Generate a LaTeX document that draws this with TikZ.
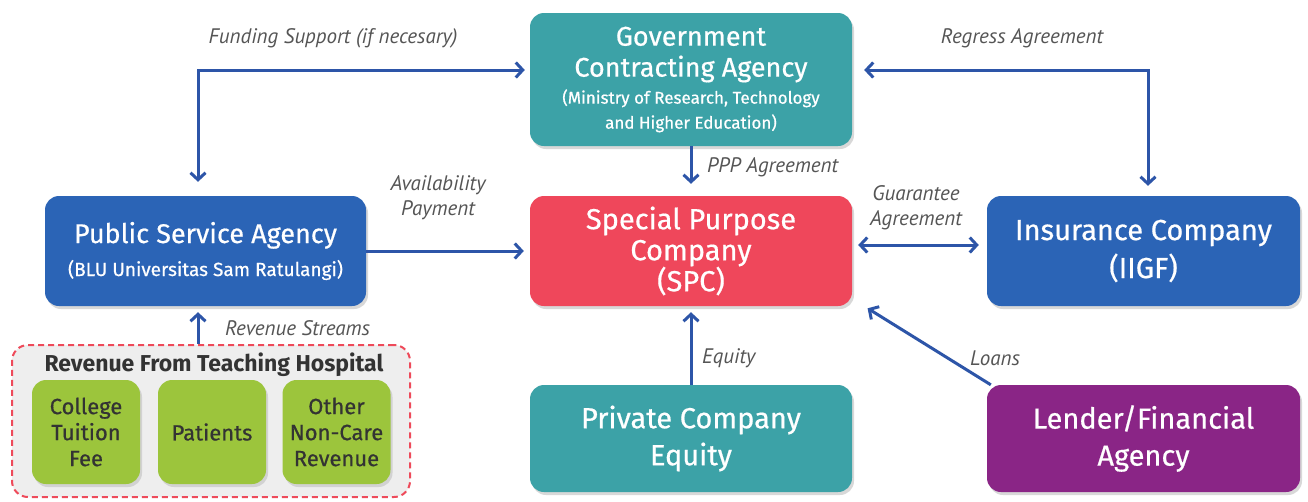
\documentclass[tikz,border=0pt]{standalone}
\usepackage{fontspec}
\setmainfont{Fira Sans}
\newfontfamily\labfont{PT Sans}
\newfontfamily\boxfont{Fira Sans}[FakeBold=0.6]
\usetikzlibrary{arrows.meta,shadows,calc}
\definecolor{teal1}{HTML}{3CA2A7}
\definecolor{red1}{HTML}{EF475B}
\definecolor{blue1}{HTML}{2B64B6}
\definecolor{purp1}{HTML}{8A2586}
\definecolor{green1}{HTML}{9CC53C}
\definecolor{arrc}{HTML}{2D55A8}
\definecolor{labc}{HTML}{555555}
\definecolor{txtd}{HTML}{333333}
\definecolor{dashr}{HTML}{EE4A5A}
\definecolor{contf}{HTML}{EEEEEE}
\tikzset{
  box/.style={rounded corners=14pt, inner sep=0pt, align=center, text=white,
    drop shadow={opacity=0.3, shadow xshift=2pt, shadow yshift=-3pt},
    font=\boxfont\fontsize{27}{31}\selectfont},
  gbox/.style={rounded corners=14pt, fill=green1, inner sep=0pt, align=center, text=txtd,
    minimum width=108pt, minimum height=104pt,
    drop shadow={opacity=0.25, shadow xshift=2pt, shadow yshift=-3pt},
    font=\boxfont\fontsize{22}{26}\selectfont},
  arr/.style={draw=arrc, line width=3pt, -{Straight Barb[length=7pt,width=15pt,line width=3pt]}},
  darr/.style={arr, {Straight Barb[length=7pt,width=15pt,line width=3pt]}-{Straight Barb[length=7pt,width=15pt,line width=3pt]}},
  lab/.style={text=labc, inner sep=0pt, align=center, font=\labfont\fontsize{21}{25}\selectfont\itshape}
}
\begin{document}
\begin{tikzpicture}[x=1pt,y=-1pt]
\useasboundingbox[fill=white] (0,0) rectangle (1308,501);
% container
\node[draw=dashr, dashed, dash pattern=on 6pt off 4pt, line width=2pt, fill=contf, rounded corners=16pt,
  minimum width=398pt, minimum height=152pt, inner sep=0pt] (cont) at (211,421) {};
\node[text=txtd, inner sep=0pt, font=\fontsize{23}{25}\selectfont\bfseries] (conttitle) at (214,365) {Revenue From Teaching Hospital};
\node[gbox] (college) at (86,432) {College\\Tuition\\Fee};
\node[gbox] (patients) at (212,432) {Patients};
\node[gbox] (other) at (336.5,432) {Other\\Non-Care\\Revenue};
% main boxes
\node[box, fill=teal1, minimum width=322pt, minimum height=133pt] (gca) at (691,79.5)
  {Government\\Contracting Agency\\[-4pt]{\fontsize{17}{24}\selectfont(Ministry of Research, Technology}\\[-6pt]{\fontsize{17}{24}\selectfont and Higher Education)}};
\node[box, fill=red1, minimum width=322pt, minimum height=110pt, font=\boxfont\fontsize{29}{31}\selectfont] (spc) at (691,251)
  {Special Purpose\\Company\\(SPC)};
\node[box, fill=blue1, minimum width=321pt, minimum height=110pt] (psa) at (205.5,251)
  {Public Service Agency\\[2pt]{\fontsize{19}{24}\selectfont(BLU Universitas Sam Ratulangi)}};
\node[box, fill=blue1, minimum width=313pt, minimum height=110pt, font=\boxfont\fontsize{29}{38}\selectfont] (ins) at (1143.5,251)
  {Insurance Company\\(IIGF)};
\node[box, fill=teal1, minimum width=322pt, minimum height=107pt, font=\boxfont\fontsize{29}{37}\selectfont] (pce) at (691,438.5)
  {Private Company\\Equity};
\node[box, fill=purp1, minimum width=313pt, minimum height=107pt, font=\boxfont\fontsize{29}{37}\selectfont] (len) at (1143.5,438.5)
  {Lender/Financial\\Agency};
% connectors
\coordinate (psaS) at ([xshift=-7.5pt]psa.south);
\coordinate (contN) at (cont.north -| psaS);
\draw[darr, shorten >=5pt, shorten <=14pt] ([xshift=-7.5pt]psa.north) |- ([yshift=9.5pt]gca.west);
\draw[darr, shorten >=10pt, shorten <=12pt] ([yshift=9.5pt]gca.east) -| ([xshift=4.5pt]ins.north);
\draw[arr, shorten >=12pt] (gca.south) -- (spc.north);
\draw[arr, shorten >=6pt] (psa.east) -- (spc.west);
\draw[darr, shorten >=8pt, shorten <=6pt] ([yshift=6pt]spc.east) -- ([yshift=6pt]ins.west);
\draw[arr, shorten >=6pt] (contN) -- (psaS);
\draw[arr, shorten >=6pt] (pce.north) -- (spc.south);
\draw[arr, shorten >=4pt] ([xshift=4pt]len.north west) -- ([xshift=12pt]spc.south east);
% labels
\node[lab] (lfund) at (333,38) {Funding Support (if necesary)};
\node[lab] (lregr) at (1022,38) {Regress Agreement};
\node[lab, anchor=west] (lppp) at (707,167) {PPP Agreement};
\node[lab] (lavail) at (438,198) {Availability\\Payment};
\node[lab] (lguar) at (916,208) {Guarantee\\Agreement};
\node[lab, anchor=west] (lrev) at (225,328) {Revenue Streams};
\node[lab, anchor=west] (leq) at (702,358) {Equity};
\node[lab, anchor=west] (lloan) at (970,358) {Loans};
\end{tikzpicture}
\end{document}
